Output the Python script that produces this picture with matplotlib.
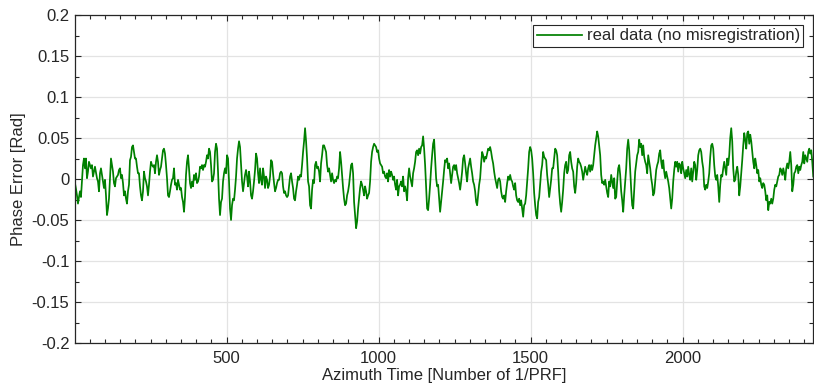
import numpy as np
import matplotlib
matplotlib.use("Agg")
import matplotlib.pyplot as plt
from matplotlib.ticker import MultipleLocator

## -------------------- phase error samples (rad), decimated ------------------- ##
seg1 = [-.005, -.012, -.020, -.030, -.022, -.015, -.022, -.003, .017, .025,
        .013, .025, .001, .009, .021, .017, .013, .017, .003, .009,
        .015, .008, .001, -.003, -.015, .007, .013, .005, -.003, -.011,
        -.001, -.020, -.044, -.036, -.024, .001, .025, .017, .009, -.005,
        -.009, .001, .003, .005, .011, .013, .001, .005, -.005, -.020,
        -.015, -.024, -.030, -.015, -.007, .023, .027, .039, .041, .033,
        .025, .025, .015, .007, .007, -.009, -.020, -.026, -.015, .009,
        .001, -.003, -.009, -.020, -.007, .009, .021, .017, .015, .017,
        .007, .021, .029, .021, .005, .011, .015, .025, .035, .037,
        .031, .017, .001, -.020, -.022, -.015, -.007, -.001, .001, .013,
        -.007, -.005, -.013, -.001, -.007, -.013, -.011, -.022, -.028, -.040,
        -.022, .005, .021, .029, .013, -.005, -.011, -.003, -.009, .005,
        -.001, .007, -.005, -.003]
seg2 = [.003, .015, .013, .017, .011, .017, .015, .021, .029, .025,
        .037, .033, .017, -.003, -.001, .007, .033, .043, .037, .009,
        -.024, -.044, -.028, -.024, -.003, .007, .013, .007, .029, .025,
        -.003, -.036, -.050, -.032, -.024, -.026, -.013, .003, .025, .037,
        .046, .039, .017, -.003, -.015, -.005, .005, .011, .003, -.009,
        .009, -.003, -.020, -.024, -.015, -.003, .011, .031, .025, .007,
        -.005, .013, -.001, -.007, .013, .003, -.011, .003, -.001, -.011,
        -.007, .003, .023, .021, .007, -.005, -.015, -.011, -.005, -.001,
        -.001, .007, .009, .007, -.009, -.017, -.015, -.020, -.022, -.020,
        -.009, .003, .007, -.003, -.011, -.024, -.026, -.015, -.007, .003,
        -.001, .005, .003, .017, .033, .046, .062, .046, .025, -.003,
        -.009, -.032, -.036, -.013, -.001, -.005, .017, .021, .013, .015,
        .009, -.003, .019, .029, .041]
seg3 = [.041, .037, .033, .017, .009, .013, .005, -.003, .007, -.001,
        -.005, -.001, -.003, .003, .001, .013, .033, .021, .005, -.011,
        -.024, -.032, -.030, -.020, -.015, -.007, .005, .017, .019, .007,
        -.028, -.044, -.060, -.052, -.036, -.024, -.011, -.003, -.007, -.013,
        -.020, -.009, -.015, -.024, -.020, -.017, -.003, .021, .033, .039,
        .043, .041, .039, .033, .035, .025, .019, .017, .015, .007,
        .009, .003, .001, .007, -.003, .011, .003, .009, .005, -.001,
        .003, -.007, -.013, -.001, -.020, -.009, -.007, -.003, -.009, .003,
        -.015, -.009, -.015, -.026, .001, .013, .003, -.003, -.009, .007,
        .013, .021, .033, .035, .029, .037, .031, .039, .041, .052,
        .037, .017, -.011, -.036, -.038, -.024, -.007, .013, .029, .043,
        .048, .025, .001, -.009, -.007, -.024, -.040, -.028, -.015, -.003,
        .011, .023, .021, .025, .013]
seg4 = [.019, .007, -.005, .005, .015, .017, .011, .017, .007, .001,
        -.005, -.013, -.003, .009, .025, .029, .019, .007, -.003, .013,
        .019, .025, .015, .007, -.003, -.007, -.015, -.028, -.032, -.020,
        -.007, .001, .019, .033, .029, .021, .027, .025, .031, .037,
        .035, .039, .033, .025, .019, .009, .001, -.005, -.011, -.001,
        .001, -.003, -.015, -.022, -.024, -.020, -.028, -.015, -.005, .003,
        -.001, .005, -.001, -.003, -.009, -.013, -.005, -.020, -.026, -.028,
        -.024, -.032, -.026, -.036, -.046, -.032, -.030, -.020, -.003, .013,
        .033, .039, .035, .025, .007, -.017, -.032, -.044, -.048, -.028,
        -.022, -.007, .009, .017, .033, .027, .025, .023, .005, -.007,
        -.022, -.011, -.001, .013, .013, .025, .037, .035, .029, .009,
        -.015, -.030, -.040, -.028, -.013, .007, .017, .021, .007, .011,
        .029, .033, .021, .013, .009]
seg5 = [-.009, -.017, -.005, .015, .025, .021, .019, .015, .009, -.001,
        .007, .015, .009, .005, .013, .017, .009, .017, .011, .017,
        .029, .041, .050, .058, .052, .041, .029, .005, -.005, -.003,
        -.007, -.001, -.009, -.017, -.022, -.003, -.009, .005, -.003, -.011,
        .001, -.024, -.022, -.003, .013, .017, .005, -.015, -.026, -.040,
        -.020, -.003, .013, .037, .048, .035, .011, -.013, -.032, -.036,
        -.013, .009, .019, .029, .033, .048, .039, .043, .029, .041,
        .027, .021, .017, .007, .029, .021, .013, .001, -.007, -.020,
        -.017, -.003, .011, .017, .021, .031, .035, .021, .013, .023,
        .009, .001, .009, .003, -.003, -.011, -.024, -.036, -.024, -.003,
        .011, .021, .015, .021, .009, .019, .017, .007, .021, .013,
        .007, .001, .011, .003, .015, .005, -.001, .013, -.003, .009,
        .021, .017, -.001, .011, .029]
seg6 = [.035, .037, .033, .021, .013, -.009, -.013, -.007, -.011, -.003,
        .007, .027, .041, .043, .037, .017, .003, -.001, .005, -.009,
        -.028, -.007, .005, .003, .013, .021, .013, .005, .025, .017,
        .029, .050, .062, .046, .013, -.003, -.001, .009, .015, .005,
        -.020, -.009, .007, .023, .041, .056, .048, .037, .056, .058,
        .043, .054, .046, .033, .021, .013, .025, .017, .007, .011,
        -.003, .001, -.007, -.011, -.005, -.007, -.015, -.026, -.020, -.038,
        -.028, -.030, -.024, -.030, -.024, -.013, -.007, -.009, -.003, .003,
        .005, .013, .011, .005, .013, .007, -.001, .013, .019, .013,
        .021, .033, .017, -.015, -.007, .007, .009, .015, .017, .007,
        .015, .011, .017, .021, .033, .019, .029, .025, .021, .033,
        .037, .031, .035, .021, .003]

phase_err = np.array(seg1 + seg2 + seg3 + seg4 + seg5 + seg6)
azimuth = np.linspace(1, 2430, len(phase_err))

y_ticks = [-0.2, -0.15, -0.1, -0.05, 0, 0.05, 0.1, 0.15, 0.2]
y_labels = ['-0.2', '-0.15', '-0.1', '-0.05', '0', '0.05', '0.1', '0.15', '0.2']
x_ticks = [500, 1000, 1500, 2000]

## -------------------- plot ------------------- ##
plt.rcParams['font.family'] = ['Liberation Sans', 'DejaVu Sans']
axcol = '#262626'

fig = plt.figure(figsize=(8.14, 3.9), dpi=100)
ax = fig.add_axes([0.0921, 0.1205, 0.907, 0.841])

ax.plot(azimuth, phase_err, color='#008000', lw=1.25, label='real data (no misregistration)')

ax.set_xlim(1, 2430)
ax.set_ylim(-0.2, 0.2)
ax.set_xticks(x_ticks)
ax.set_yticks(y_ticks)
ax.set_yticklabels(y_labels)
ax.xaxis.set_minor_locator(MultipleLocator(50))
ax.yaxis.set_minor_locator(MultipleLocator(0.025))
ax.grid(True, which='major', color='#e3e3e3', lw=0.9)
ax.set_axisbelow(True)

ax.tick_params(which='both', direction='in', top=True, right=True,
               colors=axcol, labelsize=12, width=0.8)
ax.tick_params(which='major', length=4, pad=4)
ax.tick_params(axis='x', which='major', pad=6)
ax.tick_params(which='minor', length=3)
for s in ax.spines.values():
    s.set_color(axcol)
    s.set_linewidth(0.9)

ax.set_xlabel('Azimuth Time [Number of 1/PRF]', fontsize=12, color=axcol, labelpad=1)
ax.set_ylabel('Phase Error [Rad]', fontsize=12, color=axcol, labelpad=4)

leg = ax.legend(loc='upper right', fontsize=12, handlelength=2.7, fancybox=False,
                borderaxespad=0.6, borderpad=0.2, handletextpad=0.3, framealpha=1)
leg.get_frame().set_edgecolor(axcol)
leg.get_frame().set_linewidth(0.8)
for t in leg.get_texts():
    t.set_color(axcol)

fig.savefig('out.png', dpi=100)
